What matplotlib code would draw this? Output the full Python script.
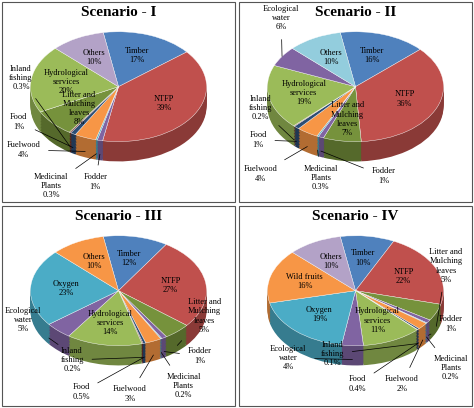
import matplotlib
matplotlib.use("Agg")
import matplotlib.pyplot as plt
import matplotlib.colors as mc
import numpy as np
from matplotlib.patches import Rectangle

plt.rcParams['font.family'] = ['Liberation Serif', 'DejaVu Serif']

titles = ["Scenario - I", "Scenario - II", "Scenario - III", "Scenario - IV"]
labels1 = ["Timber", "NTFP", "Fodder", "Medicinal\nPlants", "Fuelwood", "Food", "Inland\nfishing", "Litter and\nMulching\nleaves", "Hydrological\nservices", "Others"]
values1 = [17, 39, 1, 0.3, 4, 1, 0.3, 8, 20, 10]
labels2 = ["Timber", "NTFP", "Litter and\nMulching\nleaves", "Fodder", "Medicinal\nPlants", "Fuelwood", "Food", "Inland\nfishing", "Hydrological\nservices", "Ecological\nwater", "Others"]
values2 = [16, 36, 7, 1, 0.3, 4, 1, 0.2, 19, 6, 10]
labels3 = ["Timber", "NTFP", "Litter and\nMulching\nleaves", "Fodder", "Medicinal\nPlants", "Fuelwood", "Food", "Inland\nfishing", "Hydrological\nservices", "Ecological\nwater", "Oxygen", "Others"]
values3 = [12, 27, 5, 1, 0.2, 3, 0.5, 0.2, 14, 5, 23, 10]
labels4 = ["Timber", "NTFP", "Litter and\nMulching\nleaves", "Fodder", "Medicinal\nPlants", "Fuelwood", "Food", "Inland\nfishing", "Hydrological\nservices", "Ecological\nwater", "Oxygen", "Wild fruits", "Others"]
values4 = [10, 22, 5, 1, 0.2, 2, 0.4, 0.1, 11, 4, 19, 16, 10]

cmap = {"Timber": "#4F81BD", "NTFP": "#C0504D", "Litter": "#76923C", "Fodder": "#8064A2",
        "Medicinal": "#4BACC6", "Fuelwood": "#F79646", "Food": "#2C4D75", "Inland": "#772C2A",
        "Hydrological": "#9BBB59", "Ecological": "#8064A2", "Oxygen": "#4BACC6",
        "Wild": "#F79646"}
others_col = ["#B3A2C7", "#93CDDD", "#F79646", "#B3A2C7"]

# outside label positions (panel fractions: x from left, y from top)
outside = [
    {"Inland": (0.08, 0.38), "Food": (0.07, 0.60), "Fuelwood": (0.09, 0.74),
     "Medicinal": (0.21, 0.92), "Fodder": (0.40, 0.90)},
    {"Ecological": (0.18, 0.08), "Inland": (0.09, 0.53), "Food": (0.08, 0.69),
     "Fuelwood": (0.09, 0.86), "Medicinal": (0.35, 0.88), "Fodder": (0.62, 0.87)},
    {"Ecological": (0.09, 0.57), "Inland": (0.30, 0.77), "Food": (0.34, 0.93),
     "Fuelwood": (0.55, 0.94), "Medicinal": (0.78, 0.90), "Fodder": (0.85, 0.75),
     "Litter": (0.87, 0.55)},
    {"Litter": (0.89, 0.30), "Fodder": (0.91, 0.59), "Medicinal": (0.91, 0.81),
     "Fuelwood": (0.70, 0.89), "Food": (0.51, 0.89), "Inland": (0.40, 0.74),
     "Ecological": (0.21, 0.76)},
]

def key(lab):
    return lab.split()[0].split("\n")[0]

data = [(labels1, values1), (labels2, values2), (labels3, values3), (labels4, values4)]
DEPTH = 0.36

fig = plt.figure(figsize=(4.74, 4.08), dpi=100)
pos = [(0.005, 0.505), (0.505, 0.505), (0.005, 0.005), (0.505, 0.005)]
for i, (labs, vals) in enumerate(data):
    x0, y0 = pos[i]
    fig.patches.append(Rectangle((x0, y0), 0.49, 0.49, transform=fig.transFigure,
                                 fill=False, ec="#555555", lw=0.8))
    fig.text(x0 + 0.245, y0 + 0.465, titles[i], ha="center", va="center",
             fontsize=11, fontweight="bold")
    ax = fig.add_axes([x0 + 0.05, y0 + 0.067, 0.39, 0.357])
    cols = [others_col[i] if key(l) == "Others" else cmap[key(l)] for l in labs]
    dark = [tuple(c * 0.72 for c in mc.to_rgb(cc)) for cc in cols]
    for d in np.linspace(DEPTH, 0.0, 14)[:-1]:
        ax.pie(vals, colors=dark, startangle=100, counterclock=False,
               center=(0, -d), wedgeprops=dict(lw=0))
    wedges, _ = ax.pie(vals, colors=cols, startangle=100, counterclock=False,
                       wedgeprops=dict(lw=0.3, ec="white"))
    ax.set_aspect("auto")
    ax.set_xlim(-1.05, 1.05)
    ax.set_ylim(-1.6, 1.05)
    for w, l, v in zip(wedges, labs, vals):
        a = np.deg2rad((w.theta1 + w.theta2) / 2)
        txt = l + "\n" + f"{v:g}%"
        k = key(l)
        if k in outside[i]:
            px, py = outside[i][k]
            fx, fy = x0 + px * 0.49, y0 + (1 - py) * 0.49
            ex, ey = np.cos(a), np.sin(a)
            if ey < 0:
                ey -= DEPTH * 0.7
            ax.annotate(txt, xy=(ex, ey), xytext=(fx, fy), textcoords="figure fraction",
                        ha="center", va="center", fontsize=6, annotation_clip=False,
                        arrowprops=dict(arrowstyle="-", lw=0.5, color="black",
                                        shrinkA=4, shrinkB=0))
        else:
            r = 0.6
            ax.text(r * np.cos(a), r * np.sin(a), txt, ha="center", va="center", fontsize=6)

fig.savefig("out.png", dpi=100)
